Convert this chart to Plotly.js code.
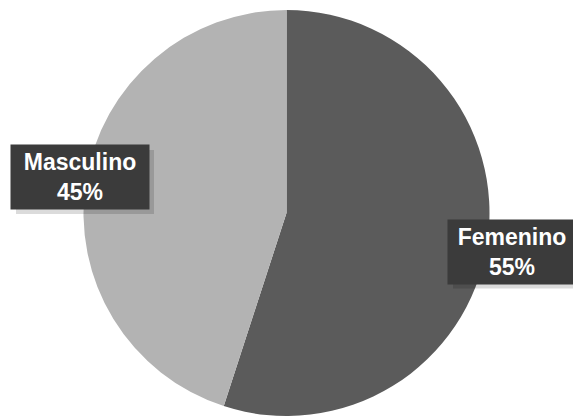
<!DOCTYPE html>
<html><head><meta charset="utf-8">
<script src="https://cdn.plot.ly/plotly-3.0.1.min.js"></script>
<style>html,body{margin:0;padding:0;background:#fff}</style>
</head><body><div id="chart" style="width:573px;height:418px"></div>
<script>
const categories = ["Femenino", "Masculino"];
const values = [55, 45];
const colors = ["#5b5b5b", "#b3b3b3"];
const labelPos = [{x: 512, y: 251.5, w: 128}, {x: 80, y: 177, w: 138}];

const W = 573, H = 418;
const boxH = 64;
const annotations = [];
const shapes = [];
categories.forEach((c, i) => {
  const t = "<b>" + c + "<br>" + values[i] + "%</b>";
  const p = labelPos[i];
  shapes.push({
    type: "rect", xref: "paper", yref: "paper", layer: "above",
    x0: (p.x - p.w / 2 + 5) / W, x1: (p.x + p.w / 2 + 5) / W,
    y0: 1 - (p.y + boxH / 2 + 5) / H, y1: 1 - (p.y - boxH / 2 + 5) / H,
    fillcolor: "rgba(0,0,0,0.14)", line: {width: 0}
  });
  annotations.push({
    xref: "paper", yref: "paper",
    x: p.x / W, y: 1 - p.y / H,
    xanchor: "center", yanchor: "middle",
    text: t, showarrow: false,
    width: p.w, height: boxH, align: "center", valign: "middle",
    font: {family: "Liberation Sans, Arial", size: 23, color: "#ffffff"},
    bgcolor: "#3b3b3b", borderpad: 0
  });
});

Plotly.newPlot("chart", [{
  type: "pie",
  labels: categories,
  values: values,
  sort: false,
  direction: "clockwise",
  rotation: 0,
  textinfo: "none",
  hoverinfo: "label+percent",
  marker: {colors: colors, line: {width: 0}},
  domain: {x: [(286.5 - 203) / W, (286.5 + 203) / W], y: [(205 - 203) / H, (205 + 203) / H]}
}], {
  width: W, height: H,
  margin: {l: 0, r: 0, t: 0, b: 0},
  showlegend: false,
  paper_bgcolor: "#ffffff",
  annotations: annotations,
  shapes: shapes
}, {displayModeBar: false, staticPlot: true});
</script></body></html>
